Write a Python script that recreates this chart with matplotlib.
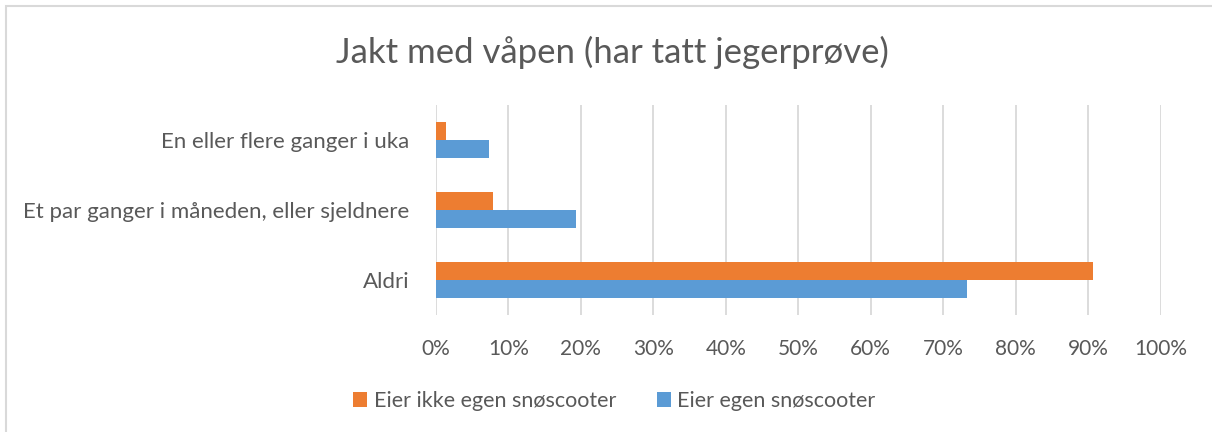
import matplotlib.pyplot as plt
from matplotlib.patches import Rectangle
from matplotlib.ticker import PercentFormatter
import numpy as np

plt.rcParams['font.family'] = ['Lato', 'DejaVu Sans']

categories = ["En eller flere ganger i uka",
              "Et par ganger i måneden, eller sjeldnere",
              "Aldri"]
eier_ikke = [1.4, 7.9, 90.6]   # Eier ikke egen snøscooter
eier = [7.3, 19.4, 73.3]       # Eier egen snøscooter
series_names = ["Eier ikke egen snøscooter", "Eier egen snøscooter"]
title = "Jakt med våpen (har tatt jegerprøve)"

text_col = "#595959"
orange = "#ED7D31"
blue = "#5B9BD5"

fig = plt.figure(figsize=(12.12, 4.32), dpi=100)
ax = fig.add_axes([0.3595, 0.2708, 0.5982, 0.4868])

y = np.arange(len(categories))
h = 0.26
b1 = ax.barh(y - h / 2, eier_ikke, height=h, color=orange, label=series_names[0])
b2 = ax.barh(y + h / 2, eier, height=h, color=blue, label=series_names[1])

ax.set_xlim(0, 100)
ax.set_ylim(2.5, -0.5)
ax.set_xticks(np.arange(0, 101, 10))
ax.xaxis.set_major_formatter(PercentFormatter(decimals=0))
ax.set_yticks(y)
ax.set_yticklabels(categories)
ax.grid(axis='x', color="#D9D9D9", linewidth=1.3)
ax.set_axisbelow(True)
for s in ax.spines.values():
    s.set_visible(False)
ax.tick_params(length=0, colors=text_col)
ax.tick_params(axis='x', pad=17, labelsize=15)
ax.tick_params(axis='y', pad=19, labelsize=16)

fig.text(0.505, 0.878, title, ha='center', va='center', fontsize=25, color=text_col)

leg = fig.legend(handles=[b1, b2], loc='center', bbox_to_anchor=(0.507, 0.072),
                 ncol=2, frameon=False, fontsize=15.5, handlelength=0.65,
                 handleheight=0.65, handletextpad=0.3, columnspacing=1.9,
                 labelcolor=text_col)

# chart frame
fig.patches.append(Rectangle((0.005, -0.05), 1.2, 1.037, transform=fig.transFigure,
                             fill=False, edgecolor="#D9D9D9", linewidth=1.5))

fig.savefig("out.png", dpi=100)
